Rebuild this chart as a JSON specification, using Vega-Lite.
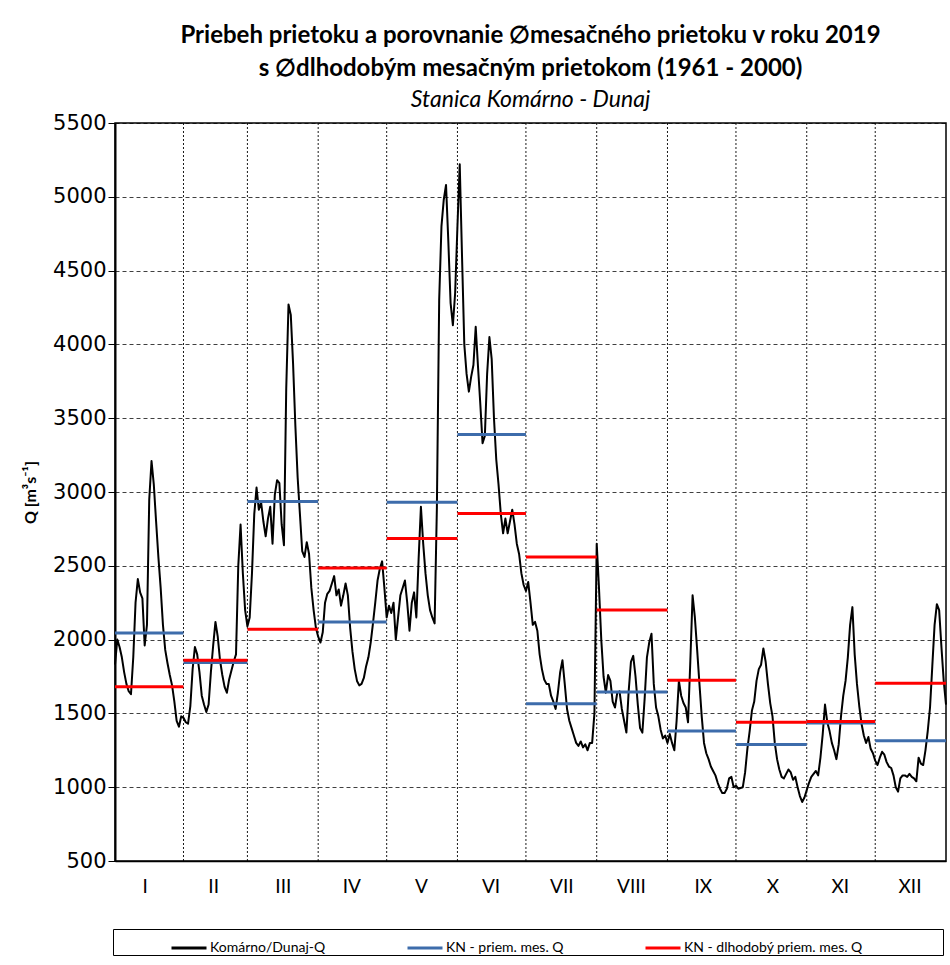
{
"$schema": "https://vega.github.io/schema/vega-lite/v6.json",
"width": 831, "height": 738,
"padding": {"left": 22, "top": 24, "right": 2, "bottom": 2},
"background": "white",
"title": {
 "text": ["Priebeh prietoku a porovnanie ∅mesačného prietoku v roku 2019", "s ∅dlhodobým  mesačným prietokom (1961 - 2000)"],
 "subtitle": "Stanica Komárno - Dunaj",
 "font": "Lato", "fontSize": 24, "fontWeight": "bold", "lineHeight": 33, "color": "#000",
 "subtitleFont": "Lato", "subtitleFontSize": 23, "subtitleFontStyle": "italic", "subtitleFontWeight": "normal", "subtitleColor": "#000", "subtitleLineHeight": 30, "subtitlePadding": 8,
 "anchor": "middle", "offset": 0
},
"datasets": {
 "bounds": [{"d":31},{"d":59},{"d":90},{"d":120},{"d":151},{"d":181},{"d":212},{"d":243},{"d":273},{"d":304},{"d":334}],
 "daily": [
{"d":1,"q":1830},{"d":2,"q":2000},{"d":3,"q":1950},{"d":4,"q":1880},{"d":5,"q":1780},{"d":6,"q":1700},{"d":7,"q":1650},{"d":8,"q":1630},{"d":9,"q":1880},{"d":10,"q":2250},{"d":11,"q":2410},{"d":12,"q":2320},{"d":13,"q":2280},{"d":14,"q":1960},{"d":15,"q":2100},{"d":16,"q":2950},{"d":17,"q":3210},{"d":18,"q":3050},{"d":19,"q":2800},{"d":20,"q":2560},{"d":21,"q":2350},{"d":22,"q":2100},{"d":23,"q":1930},{"d":24,"q":1840},{"d":25,"q":1760},{"d":26,"q":1690},{"d":27,"q":1580},{"d":28,"q":1450},{"d":29,"q":1410},{"d":30,"q":1480},{"d":31,"q":1470},
{"d":32,"q":1440},{"d":33,"q":1430},{"d":34,"q":1550},{"d":35,"q":1800},{"d":36,"q":1950},{"d":37,"q":1900},{"d":38,"q":1780},{"d":39,"q":1620},{"d":40,"q":1560},{"d":41,"q":1510},{"d":42,"q":1560},{"d":43,"q":1780},{"d":44,"q":1960},{"d":45,"q":2120},{"d":46,"q":2020},{"d":47,"q":1860},{"d":48,"q":1760},{"d":49,"q":1680},{"d":50,"q":1640},{"d":51,"q":1730},{"d":52,"q":1790},{"d":53,"q":1850},{"d":54,"q":1900},{"d":55,"q":2500},{"d":56,"q":2780},{"d":57,"q":2450},{"d":58,"q":2200},{"d":59,"q":2090},
{"d":60,"q":2150},{"d":61,"q":2450},{"d":62,"q":2850},{"d":63,"q":3030},{"d":64,"q":2880},{"d":65,"q":2930},{"d":66,"q":2800},{"d":67,"q":2700},{"d":68,"q":2820},{"d":69,"q":2900},{"d":70,"q":2650},{"d":71,"q":2980},{"d":72,"q":3080},{"d":73,"q":3060},{"d":74,"q":2780},{"d":75,"q":2640},{"d":76,"q":3700},{"d":77,"q":4270},{"d":78,"q":4200},{"d":79,"q":3870},{"d":80,"q":3450},{"d":81,"q":3100},{"d":82,"q":2850},{"d":83,"q":2600},{"d":84,"q":2560},{"d":85,"q":2660},{"d":86,"q":2580},{"d":87,"q":2350},{"d":88,"q":2200},{"d":89,"q":2080},{"d":90,"q":2020},
{"d":91,"q":1980},{"d":92,"q":2050},{"d":93,"q":2250},{"d":94,"q":2310},{"d":95,"q":2330},{"d":96,"q":2380},{"d":97,"q":2430},{"d":98,"q":2300},{"d":99,"q":2340},{"d":100,"q":2230},{"d":101,"q":2300},{"d":102,"q":2380},{"d":103,"q":2300},{"d":104,"q":2080},{"d":105,"q":1920},{"d":106,"q":1800},{"d":107,"q":1720},{"d":108,"q":1690},{"d":109,"q":1700},{"d":110,"q":1740},{"d":111,"q":1820},{"d":112,"q":1880},{"d":113,"q":1980},{"d":114,"q":2110},{"d":115,"q":2250},{"d":116,"q":2400},{"d":117,"q":2480},{"d":118,"q":2530},{"d":119,"q":2350},{"d":120,"q":2150},
{"d":121,"q":2230},{"d":122,"q":2180},{"d":123,"q":2250},{"d":124,"q":2000},{"d":125,"q":2150},{"d":126,"q":2300},{"d":127,"q":2350},{"d":128,"q":2400},{"d":129,"q":2250},{"d":130,"q":2060},{"d":131,"q":2250},{"d":132,"q":2320},{"d":133,"q":2150},{"d":134,"q":2550},{"d":135,"q":2900},{"d":136,"q":2650},{"d":137,"q":2450},{"d":138,"q":2300},{"d":139,"q":2200},{"d":140,"q":2150},{"d":141,"q":2110},{"d":142,"q":2900},{"d":143,"q":4300},{"d":144,"q":4800},{"d":145,"q":4980},{"d":146,"q":5080},{"d":147,"q":4700},{"d":148,"q":4280},{"d":149,"q":4130},{"d":150,"q":4350},{"d":151,"q":4800},
{"d":152,"q":5220},{"d":153,"q":4600},{"d":154,"q":4000},{"d":155,"q":3800},{"d":156,"q":3680},{"d":157,"q":3780},{"d":158,"q":3860},{"d":159,"q":4120},{"d":160,"q":3850},{"d":161,"q":3600},{"d":162,"q":3330},{"d":163,"q":3380},{"d":164,"q":3800},{"d":165,"q":4050},{"d":166,"q":3900},{"d":167,"q":3500},{"d":168,"q":3220},{"d":169,"q":3050},{"d":170,"q":2850},{"d":171,"q":2720},{"d":172,"q":2820},{"d":173,"q":2720},{"d":174,"q":2800},{"d":175,"q":2880},{"d":176,"q":2780},{"d":177,"q":2650},{"d":178,"q":2580},{"d":179,"q":2450},{"d":180,"q":2370},{"d":181,"q":2330},
{"d":182,"q":2390},{"d":183,"q":2250},{"d":184,"q":2100},{"d":185,"q":2120},{"d":186,"q":2060},{"d":187,"q":1900},{"d":188,"q":1800},{"d":189,"q":1730},{"d":190,"q":1700},{"d":191,"q":1700},{"d":192,"q":1620},{"d":193,"q":1580},{"d":194,"q":1530},{"d":195,"q":1640},{"d":196,"q":1780},{"d":197,"q":1860},{"d":198,"q":1700},{"d":199,"q":1530},{"d":200,"q":1450},{"d":201,"q":1400},{"d":202,"q":1350},{"d":203,"q":1300},{"d":204,"q":1280},{"d":205,"q":1310},{"d":206,"q":1270},{"d":207,"q":1290},{"d":208,"q":1250},{"d":209,"q":1300},{"d":210,"q":1300},{"d":211,"q":1500},{"d":212,"q":2650},
{"d":213,"q":2350},{"d":214,"q":2000},{"d":215,"q":1750},{"d":216,"q":1640},{"d":217,"q":1760},{"d":218,"q":1720},{"d":219,"q":1580},{"d":220,"q":1540},{"d":221,"q":1640},{"d":222,"q":1650},{"d":223,"q":1530},{"d":224,"q":1450},{"d":225,"q":1370},{"d":226,"q":1650},{"d":227,"q":1850},{"d":228,"q":1890},{"d":229,"q":1750},{"d":230,"q":1560},{"d":231,"q":1400},{"d":232,"q":1370},{"d":233,"q":1600},{"d":234,"q":1880},{"d":235,"q":1980},{"d":236,"q":2040},{"d":237,"q":1700},{"d":238,"q":1540},{"d":239,"q":1480},{"d":240,"q":1390},{"d":241,"q":1330},{"d":242,"q":1350},{"d":243,"q":1300},
{"d":244,"q":1360},{"d":245,"q":1300},{"d":246,"q":1250},{"d":247,"q":1450},{"d":248,"q":1720},{"d":249,"q":1620},{"d":250,"q":1570},{"d":251,"q":1540},{"d":252,"q":1440},{"d":253,"q":1850},{"d":254,"q":2300},{"d":255,"q":2150},{"d":256,"q":1930},{"d":257,"q":1700},{"d":258,"q":1480},{"d":259,"q":1300},{"d":260,"q":1230},{"d":261,"q":1190},{"d":262,"q":1140},{"d":263,"q":1110},{"d":264,"q":1080},{"d":265,"q":1030},{"d":266,"q":990},{"d":267,"q":960},{"d":268,"q":960},{"d":269,"q":990},{"d":270,"q":1060},{"d":271,"q":1070},{"d":272,"q":1000},{"d":273,"q":1010},
{"d":274,"q":990},{"d":275,"q":995},{"d":276,"q":1000},{"d":277,"q":1100},{"d":278,"q":1260},{"d":279,"q":1380},{"d":280,"q":1520},{"d":281,"q":1580},{"d":282,"q":1720},{"d":283,"q":1800},{"d":284,"q":1830},{"d":285,"q":1940},{"d":286,"q":1850},{"d":287,"q":1700},{"d":288,"q":1570},{"d":289,"q":1480},{"d":290,"q":1300},{"d":291,"q":1190},{"d":292,"q":1120},{"d":293,"q":1070},{"d":294,"q":1060},{"d":295,"q":1090},{"d":296,"q":1120},{"d":297,"q":1100},{"d":298,"q":1050},{"d":299,"q":1070},{"d":300,"q":1000},{"d":301,"q":940},{"d":302,"q":900},{"d":303,"q":930},{"d":304,"q":980},
{"d":305,"q":1030},{"d":306,"q":1070},{"d":307,"q":1090},{"d":308,"q":1110},{"d":309,"q":1080},{"d":310,"q":1200},{"d":311,"q":1360},{"d":312,"q":1560},{"d":313,"q":1440},{"d":314,"q":1380},{"d":315,"q":1300},{"d":316,"q":1250},{"d":317,"q":1190},{"d":318,"q":1290},{"d":319,"q":1480},{"d":320,"q":1620},{"d":321,"q":1720},{"d":322,"q":1880},{"d":323,"q":2100},{"d":324,"q":2220},{"d":325,"q":1900},{"d":326,"q":1700},{"d":327,"q":1550},{"d":328,"q":1430},{"d":329,"q":1350},{"d":330,"q":1300},{"d":331,"q":1340},{"d":332,"q":1260},{"d":333,"q":1230},{"d":334,"q":1180},
{"d":335,"q":1150},{"d":336,"q":1200},{"d":337,"q":1240},{"d":338,"q":1220},{"d":339,"q":1170},{"d":340,"q":1140},{"d":341,"q":1130},{"d":342,"q":1080},{"d":343,"q":1000},{"d":344,"q":970},{"d":345,"q":1060},{"d":346,"q":1080},{"d":347,"q":1080},{"d":348,"q":1070},{"d":349,"q":1090},{"d":350,"q":1070},{"d":351,"q":1060},{"d":352,"q":1040},{"d":353,"q":1200},{"d":354,"q":1160},{"d":355,"q":1150},{"d":356,"q":1250},{"d":357,"q":1380},{"d":358,"q":1540},{"d":359,"q":1820},{"d":360,"q":2100},{"d":361,"q":2240},{"d":362,"q":2200},{"d":363,"q":1950},{"d":364,"q":1720},{"d":365,"q":1560}
 ],
 "monthly": [
{"m":"I","a":1,"b":31,"s":"KN - priem. mes. Q","q":2045},
{"m":"II","a":31,"b":59,"s":"KN - priem. mes. Q","q":1845},
{"m":"III","a":59,"b":90,"s":"KN - priem. mes. Q","q":2935},
{"m":"IV","a":90,"b":120,"s":"KN - priem. mes. Q","q":2120},
{"m":"V","a":120,"b":151,"s":"KN - priem. mes. Q","q":2930},
{"m":"VI","a":151,"b":181,"s":"KN - priem. mes. Q","q":3390},
{"m":"VII","a":181,"b":212,"s":"KN - priem. mes. Q","q":1565},
{"m":"VIII","a":212,"b":243,"s":"KN - priem. mes. Q","q":1645},
{"m":"IX","a":243,"b":273,"s":"KN - priem. mes. Q","q":1380},
{"m":"X","a":273,"b":304,"s":"KN - priem. mes. Q","q":1290},
{"m":"XI","a":304,"b":334,"s":"KN - priem. mes. Q","q":1435},
{"m":"XII","a":334,"b":365,"s":"KN - priem. mes. Q","q":1315},
{"m":"I","a":1,"b":31,"s":"KN - dlhodobý priem. mes. Q","q":1680},
{"m":"II","a":31,"b":59,"s":"KN - dlhodobý priem. mes. Q","q":1860},
{"m":"III","a":59,"b":90,"s":"KN - dlhodobý priem. mes. Q","q":2070},
{"m":"IV","a":90,"b":120,"s":"KN - dlhodobý priem. mes. Q","q":2485},
{"m":"V","a":120,"b":151,"s":"KN - dlhodobý priem. mes. Q","q":2685},
{"m":"VI","a":151,"b":181,"s":"KN - dlhodobý priem. mes. Q","q":2855},
{"m":"VII","a":181,"b":212,"s":"KN - dlhodobý priem. mes. Q","q":2560},
{"m":"VIII","a":212,"b":243,"s":"KN - dlhodobý priem. mes. Q","q":2200},
{"m":"IX","a":243,"b":273,"s":"KN - dlhodobý priem. mes. Q","q":1725},
{"m":"X","a":273,"b":304,"s":"KN - dlhodobý priem. mes. Q","q":1440},
{"m":"XI","a":304,"b":334,"s":"KN - dlhodobý priem. mes. Q","q":1445},
{"m":"XII","a":334,"b":365,"s":"KN - dlhodobý priem. mes. Q","q":1705}
 ]
},
"layer": [
 {
  "data": {"name": "bounds"},
  "mark": {"type": "rule", "strokeDash": [2, 2], "color": "#000", "strokeWidth": 1, "opacity": 0.9},
  "encoding": {
   "x": {"field": "d", "type": "quantitative"}
  }
 },
 {
  "data": {"name": "daily"},
  "mark": {"type": "line", "strokeWidth": 2, "strokeJoin": "round"},
  "encoding": {
   "x": {"field": "d", "type": "quantitative", "title": null,
    "scale": {"domain": [1, 365], "nice": false, "zero": false},
    "axis": {
     "values": [14,44,74.5,104.5,135,165.5,196.5,227,258.5,289,318.5,349],
     "labelExpr": "datum.value==14?'I':datum.value==44?'II':datum.value==74.5?'III':datum.value==104.5?'IV':datum.value==135?'V':datum.value==165.5?'VI':datum.value==196.5?'VII':datum.value==227?'VIII':datum.value==258.5?'IX':datum.value==289?'X':datum.value==318.5?'XI':datum.value==349?'XII':''",
     "grid": false, "ticks": false, "domainColor": "#000", "domainWidth": 1.5,
     "labelFont": "Lato", "labelFontSize": 19, "labelColor": "#000", "labelPadding": 16,
     "labelOverlap": false, "labelBound": false, "labelFlush": false
    }
   },
   "y": {"field": "q", "type": "quantitative", "title": "Q [m³s⁻¹]",
    "scale": {"domain": [500, 5500], "nice": false, "zero": false},
    "axis": {
     "values": [500,1000,1500,2000,2500,3000,3500,4000,4500,5000,5500], "format": "d",
     "grid": true, "gridDash": [4, 3], "gridColor": "#000", "gridOpacity": 0.75, "gridWidth": 1,
     "domainColor": "#000", "domainWidth": 2, "tickColor": "#000", "tickSize": 7, "tickWidth": 1,
     "labelFont": "DejaVu Sans", "labelFontSize": 21, "labelColor": "#000", "labelPadding": 2,
     "labelOverlap": false, "labelFlush": false,
     "titleFont": "Lato", "titleFontSize": 16, "titleFontWeight": "bold", "titleColor": "#000", "titlePadding": 14
    }
   },
   "color": {"datum": "Komárno/Dunaj-Q", "type": "nominal",
    "scale": {"domain": ["Komárno/Dunaj-Q", "KN - priem. mes. Q", "KN - dlhodobý priem. mes. Q"], "range": ["#000000", "#3D6CAB", "#FF0000"]},
    "legend": {
     "orient": "none", "legendX": -2, "legendY": 806, "direction": "horizontal",
     "title": "\u00a0", "titleOrient": "left", "titlePadding": 57, "titleFontSize": 10,
     "symbolType": "stroke", "symbolSize": 1225, "symbolStrokeWidth": 3,
     "labelFont": "Lato", "labelFontSize": 14, "labelColor": "#000", "labelOffset": 2, "labelLimit": 400,
     "labelExpr": "indexof(datum.label, 'dlhodob') >= 0 ? datum.label + '\u2800\u2800\u2800\u2800\u2800\u2800\u2800\u2800' : datum.label",
     "columnPadding": 75, "padding": 0, "strokeColor": "#000", "fillColor": "#fff"
    }
   }
  }
 },
 {
  "data": {"name": "monthly"},
  "mark": {"type": "rule", "strokeWidth": 3},
  "encoding": {
   "x": {"field": "a", "type": "quantitative"},
   "x2": {"field": "b"},
   "y": {"field": "q", "type": "quantitative"},
   "color": {"field": "s", "type": "nominal"}
  }
 }
],
"config": {"view": {"stroke": "#000", "strokeWidth": 1.5}}
}
